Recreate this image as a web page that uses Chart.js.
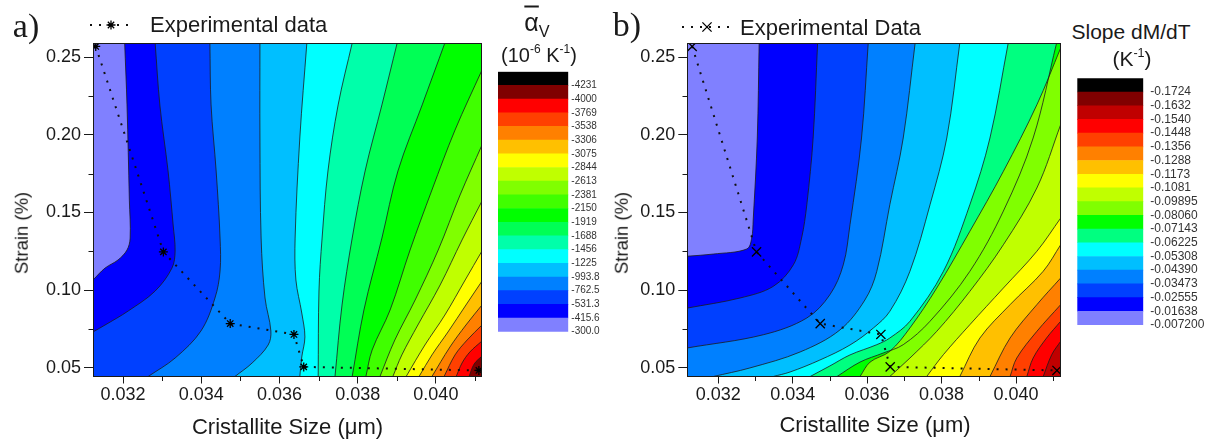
<!DOCTYPE html>
<html><head><meta charset="utf-8">
<script src="https://cdn.jsdelivr.net/npm/chart.js@4.4.1/dist/chart.umd.min.js"></script>
<style>
html,body{margin:0;padding:0;background:#fff;}
body{width:1216px;height:443px;overflow:hidden;position:relative;font-family:"Liberation Sans",Arial,sans-serif;color:#1a1a1a;}
canvas{position:absolute;}
.t{position:absolute;white-space:nowrap;line-height:1;}
.c{transform:translate(-50%,-50%);}
.l{transform:translate(0,-50%);}
.r90{transform:translate(-50%,-50%) rotate(-90deg);}
.sup{font-size:0.6em;position:relative;top:-0.75em;}
.sub{font-size:0.65em;position:relative;top:0.35em;}
</style></head><body>
<canvas id="cA" width="490" height="443" style="left:0;top:0"></canvas>
<canvas id="cbA" width="110" height="290" style="left:490px;top:60px"></canvas>
<canvas id="cB" width="470" height="443" style="left:600px;top:0"></canvas>
<canvas id="cbB" width="146" height="290" style="left:1070px;top:60px"></canvas>

<div class="t c" style="left:26px;top:26px;font:34px 'Liberation Serif',serif">a)</div>
<div class="t c" style="left:627px;top:25px;font:34px 'Liberation Serif',serif">b)</div>
<div class="t l" style="left:150px;top:25px;font-size:22px">Experimental data</div>
<div class="t l" style="left:740px;top:28px;font-size:22px">Experimental Data</div>
<div class="t c" style="left:287.5px;top:426.5px;font-size:22px">Cristallite Size (μm)</div>
<div class="t c" style="left:875px;top:425px;font-size:22px">Cristallite Size (μm)</div>
<div class="t r90" style="left:21.5px;top:233px;font-size:18.5px">Strain (%)</div>
<div class="t r90" style="left:621.5px;top:233px;font-size:18.5px">Strain (%)</div>
<div class="t c" style="left:537px;top:22px;font-size:25px"><span style="text-decoration:overline">α</span><span class="sub">V</span></div>
<div class="t c" style="left:539px;top:55px;font-size:20px">(10<span class="sup">-6</span> K<span class="sup">-1</span>)</div>
<div class="t c" style="left:1131px;top:31px;font-size:21px">Slope dM/dT</div>
<div class="t c" style="left:1132px;top:58px;font-size:21px">(K<span class="sup">-1</span>)</div>

<script>
// ---------------- data ----------------
const sizeRangeA = [0.03123, 0.04118];
const sizeRangeB = [0.03117, 0.04120];
const strainRange = [0.0443, 0.2592];
const sizeTicks = [0.032, 0.034, 0.036, 0.038, 0.040];
const strainTicks = [0.05, 0.10, 0.15, 0.20, 0.25];

// experimental data (crystallite size in µm, strain in %)
const expSize   = [0.03130, 0.03303, 0.03474, 0.03637, 0.03662, 0.04110];
const expStrain = [0.2570, 0.1246, 0.0784, 0.0714, 0.0505, 0.0482];

// colour-bar level labels (top to bottom as printed)
const levelLabelsA = ['-4231','-4000','-3769','-3538','-3306','-3075','-2844','-2613','-2381','-2150','-1919','-1688','-1456','-1225','-993.8','-762.5','-531.3','-415.6','-300.0'];
const levelLabelsB = ['-0.1724','-0.1632','-0.1540','-0.1448','-0.1356','-0.1288','-0.1173','-0.1081','-0.09895','-0.08060','-0.07143','-0.06225','-0.05308','-0.04390','-0.03473','-0.02555','-0.01638','-0.007200'];

// contour lines: [size, strain] points, lowest |level| first
const contoursA = [
 [[0.03204,0.2592],[0.03210,0.2193],[0.03216,0.1580],[0.03218,0.1335],[0.03210,0.1258],[0.03187,0.1194],[0.03154,0.1142],[0.03123,0.1065]],
 [[0.03282,0.2592],[0.03294,0.2193],[0.03315,0.1767],[0.03328,0.1419],[0.03333,0.1252],[0.03325,0.1142],[0.03282,0.0994],[0.03213,0.0865],[0.03154,0.0775],[0.03123,0.0730]],
 [[0.03422,0.2592],[0.03425,0.2193],[0.03438,0.1767],[0.03448,0.1335],[0.03448,0.1123],[0.03435,0.0949],[0.03399,0.0736],[0.03333,0.0562],[0.03264,0.0443]],
 [[0.03550,0.2592],[0.03550,0.1980],[0.03553,0.1335],[0.03563,0.0949],[0.03578,0.0736],[0.03571,0.0646],[0.03530,0.0530],[0.03486,0.0443]],
 [[0.03670,0.2592],[0.03652,0.1980],[0.03640,0.1335],[0.03642,0.1065],[0.03657,0.0852],[0.03665,0.0698],[0.03657,0.0569],[0.03652,0.0443]],
 [[0.03786,0.2592],[0.03750,0.2193],[0.03724,0.1767],[0.03709,0.1335],[0.03701,0.0994],[0.03699,0.0443]],
 [[0.03901,0.2592],[0.03862,0.2193],[0.03819,0.1767],[0.03786,0.1335],[0.03760,0.0904],[0.03742,0.0443]],
 [[0.04023,0.2592],[0.03965,0.2193],[0.03903,0.1767],[0.03862,0.1335],[0.03816,0.0872],[0.03786,0.0443]],
 [[0.04118,0.2418],[0.04049,0.2031],[0.03990,0.1645],[0.03934,0.1258],[0.03883,0.0872],[0.03837,0.0614],[0.03821,0.0443]],
 [[0.04118,0.1935],[0.04062,0.1613],[0.04006,0.1258],[0.03947,0.0936],[0.03895,0.0678],[0.03857,0.0443]],
 [[0.04118,0.1574],[0.04067,0.1323],[0.04011,0.1033],[0.03954,0.0775],[0.03913,0.0582],[0.03890,0.0443]],
 [[0.04118,0.1252],[0.04075,0.1065],[0.04023,0.0839],[0.03972,0.0646],[0.03924,0.0443]],
 [[0.04118,0.1058],[0.04077,0.0904],[0.04031,0.0730],[0.03990,0.0582],[0.03957,0.0443]],
 [[0.04118,0.0904],[0.04077,0.0775],[0.04036,0.0633],[0.03990,0.0443]],
 [[0.04118,0.0775],[0.04080,0.0678],[0.04049,0.0582],[0.04021,0.0443]],
 [[0.04118,0.0672],[0.04087,0.0601],[0.04067,0.0530],[0.04052,0.0443]],
 [[0.04118,0.0575],[0.04098,0.0524],[0.04085,0.0443]]
];
const contoursB = [
 [[0.03310,0.2592],[0.03305,0.1980],[0.03294,0.1451],[0.03290,0.1335],[0.03277,0.1265],[0.03187,0.1232],[0.03117,0.1218]],
 [[0.03467,0.2592],[0.03455,0.1980],[0.03438,0.1550],[0.03424,0.1335],[0.03402,0.1163],[0.03348,0.1024],[0.03259,0.0949],[0.03117,0.0884]],
 [[0.03603,0.2592],[0.03585,0.1980],[0.03554,0.1421],[0.03536,0.1163],[0.03500,0.0970],[0.03438,0.0820],[0.03321,0.0712],[0.03117,0.0627]],
 [[0.03729,0.2592],[0.03697,0.1980],[0.03661,0.1550],[0.03626,0.1121],[0.03594,0.0936],[0.03527,0.0743],[0.03420,0.0601],[0.03285,0.0498],[0.03187,0.0443]],
 [[0.03849,0.2592],[0.03814,0.1980],[0.03769,0.1550],[0.03715,0.1121],[0.03661,0.0863],[0.03617,0.0756],[0.03554,0.0646],[0.03473,0.0549],[0.03393,0.0472],[0.03348,0.0443]],
 [[0.03979,0.2592],[0.03930,0.1980],[0.03876,0.1550],[0.03805,0.1121],[0.03715,0.0799],[0.03661,0.0691],[0.03626,0.0648],[0.03554,0.0582],[0.03500,0.0511],[0.03447,0.0443]],
 [[0.04109,0.2592],[0.04046,0.1980],[0.03966,0.1509],[0.03876,0.1121],[0.03769,0.0799],[0.03697,0.0648],[0.03643,0.0594],[0.03581,0.0536],[0.03519,0.0443]],
 [[0.04120,0.2560],[0.04056,0.2194],[0.03966,0.1765],[0.03876,0.1379],[0.03787,0.1013],[0.03715,0.0756],[0.03661,0.0605],[0.03608,0.0536],[0.03581,0.0443]],
 [[0.04120,0.2066],[0.04056,0.1658],[0.03966,0.1292],[0.03876,0.0992],[0.03787,0.0734],[0.03715,0.0562],[0.03661,0.0443]],
 [[0.04120,0.1464],[0.04056,0.1250],[0.03966,0.1013],[0.03876,0.0777],[0.03805,0.0584],[0.03760,0.0443]],
 [[0.04120,0.1292],[0.04073,0.1121],[0.03984,0.0906],[0.03903,0.0691],[0.03849,0.0443]],
 [[0.04120,0.1078],[0.04056,0.0906],[0.03984,0.0691],[0.03930,0.0443]],
 [[0.04120,0.0906],[0.04056,0.0734],[0.04002,0.0562],[0.03984,0.0443]],
 [[0.04120,0.0799],[0.04082,0.0691],[0.04046,0.0562],[0.04029,0.0443]],
 [[0.04120,0.0670],[0.04096,0.0584],[0.04073,0.0443]]
];

// band colours, lowest |level| first
const bandColorsA = ['#8080FF','#0000FF','#0040FF','#0080FF','#00BFFF','#00FFFF','#00FFAA','#00FF55','#00FF00','#40FF00','#80FF00','#C0FF00','#FFFF00','#FFC000','#FF8000','#FF4000','#FF0000','#800000','#000000'];
const bandColorsB = ['#8080FF','#0000FF','#0040FF','#0080FF','#00BFFF','#00FFFF','#00FF80','#00FF00','#80FF00','#C0FF00','#FFFF00','#FFC000','#FF8000','#FF4000','#FF0000','#C00000','#800000','#000000'];

// ---------------- helpers ----------------
Chart.defaults.font.family = '"Liberation Sans", Arial, sans-serif';
Chart.defaults.color = '#1a1a1a';

const TENSION = 0.35;

function regionPolygon(contour, xr, yr) {
  const W = xr[1]-xr[0], H = yr[1]-yr[0];
  const tOf = ([x,y]) => {
    const d = [Math.abs(x-xr[0])/W, Math.abs(y-yr[0])/H, Math.abs(x-xr[1])/W, Math.abs(y-yr[1])/H];
    const m = Math.min(...d);
    if (m === d[0]) return (yr[1]-y)/H;
    if (m === d[1]) return 1 + (x-xr[0])/W;
    if (m === d[2]) return 2 + (y-yr[0])/H;
    return 3 + (xr[1]-x)/W;
  };
  let pts = contour.slice();
  let ta = tOf(pts[0]), tb = tOf(pts[pts.length-1]);
  if (ta > tb) { pts.reverse(); const tmp = ta; ta = tb; tb = tmp; }
  const corners = [[1,[xr[0],yr[0]]],[2,[xr[1],yr[0]]],[3,[xr[1],yr[1]]]];
  const extra = corners.filter(c => c[0] > ta && c[0] < tb).map(c => c[1]).reverse();
  const poly = pts.slice();
  poly.push(pts[pts.length-1]);
  extra.forEach(c => { poly.push(c); poly.push(c); });
  poly.push(pts[0]);
  return poly.map(([x,y]) => ({x, y}));
}

function drawMarker(ctx, style, x, y, r) {
  ctx.beginPath();
  if (style === 'star') { ctx.moveTo(x, y-r); ctx.lineTo(x, y+r); ctx.moveTo(x-r, y); ctx.lineTo(x+r, y); }
  const d = r*Math.SQRT1_2;
  ctx.moveTo(x-d, y-d); ctx.lineTo(x+d, y+d); ctx.moveTo(x-d, y+d); ctx.lineTo(x+d, y-d);
  ctx.stroke();
}

const frameTicksPlugin = {
  id: 'frameTicks',
  afterDatasetsDraw(chart) {
    const {ctx, chartArea: a, scales: {x, y}} = chart;
    ctx.save();
    ctx.strokeStyle = '#1a1a1a'; ctx.lineWidth = 1;
    const L = Math.round(a.left), T = Math.round(a.top), R = Math.round(a.right), B = Math.round(a.bottom);
    ctx.strokeRect(L+0.5, T+0.5, R-L-1, B-T-1);
    const minor = (vals, lo, hi) => {
      const step = vals[1]-vals[0], out = [];
      vals.forEach(v => { [v-step/2, v+step/2].forEach(m => { if (m >= lo && m <= hi && !out.some(o => Math.abs(o-m) < 1e-9)) out.push(m); }); });
      return out;
    };
    ctx.beginPath();
    minor(sizeTicks, x.min, x.max).forEach(v => { const px = Math.round(x.getPixelForValue(v))+0.5; ctx.moveTo(px, B); ctx.lineTo(px, B+4); });
    minor(strainTicks, y.min, y.max).forEach(v => { const py = Math.round(y.getPixelForValue(v))+0.5; ctx.moveTo(L, py); ctx.lineTo(L-4.5, py); });
    ctx.stroke();
    ctx.restore();
  },
  afterDraw(chart, args, opts) {
    if (!opts || opts.x0 === undefined) return;
    const ctx = chart.ctx;
    ctx.save();
    ctx.strokeStyle = '#111'; ctx.lineWidth = 2; ctx.setLineDash([2, 7]);
    ctx.beginPath(); ctx.moveTo(opts.x0, opts.y); ctx.lineTo(opts.x1, opts.y); ctx.stroke();
    ctx.setLineDash([]); ctx.lineWidth = 1.3; ctx.strokeStyle = '#000';
    drawMarker(ctx, opts.style, opts.xm, opts.y, opts.r);
    ctx.restore();
  }
};

function contourChart(id, contours, colors, xr, yr, pad, marker, mr, legend) {
  const ds = [];
  const rect = [[xr[0],yr[1]],[xr[0],yr[0]],[xr[1],yr[0]],[xr[1],yr[1]],[xr[0],yr[1]]];
  ds.push({data: rect.map(([x,y]) => ({x,y})), fill: 'shape', backgroundColor: colors[0], borderWidth: 0, pointRadius: 0, tension: 0, order: 1000});
  contours.forEach((c, k) => {
    ds.push({data: regionPolygon(c, xr, yr), fill: 'shape', backgroundColor: colors[k+1], borderWidth: 0, pointRadius: 0, tension: TENSION, order: 900-k});
  });
  contours.forEach(c => {
    ds.push({data: c.map(([x,y]) => ({x,y})), fill: false, borderColor: '#1c1c1c', borderWidth: 0.8, pointRadius: 0, tension: TENSION, order: 10});
  });
  ds.push({data: expSize.map((x,i) => ({x, y: expStrain[i]})), fill: false, borderColor: '#111', borderWidth: 2, borderDash: [2,7],
    pointStyle: marker, pointRadius: mr, pointBorderColor: '#000', pointBorderWidth: 1.3, pointBackgroundColor: '#000', tension: 0, order: 0});
  return new Chart(document.getElementById(id), {
    type: 'line',
    data: {datasets: ds},
    options: {
      responsive: false, animation: false, events: [], devicePixelRatio: 1,
      layout: {padding: pad},
      plugins: {legend: {display: false}, tooltip: {enabled: false}, frameTicks: legend},
      scales: {
        x: {type: 'linear', min: xr[0], max: xr[1],
          afterBuildTicks: s => { s.ticks = sizeTicks.map(v => ({value: v})); },
          afterFit: s => { s.height = 40; },
          ticks: {callback: v => Number(v).toFixed(3), font: {size: 18}, color: '#1a1a1a', padding: 1, maxRotation: 0, autoSkip: false},
          grid: {drawOnChartArea: false, drawTicks: true, tickLength: 7, color: '#1a1a1a'},
          border: {display: false}},
        y: {type: 'linear', min: yr[0], max: yr[1],
          afterBuildTicks: s => { s.ticks = strainTicks.map(v => ({value: v})); },
          afterFit: s => { s.width = 60; },
          ticks: {callback: v => Number(v).toFixed(2), font: {size: 18}, color: '#1a1a1a', padding: 3, autoSkip: false},
          grid: {drawOnChartArea: false, drawTicks: true, tickLength: 9, color: '#1a1a1a'},
          border: {display: false}}
      }
    },
    plugins: [frameTicksPlugin]
  });
}

function colorBar(id, labels, colors, pad, axisW, fontSize, tickPad) {
  const n = colors.length;
  return new Chart(document.getElementById(id), {
    type: 'bar',
    data: {labels: [''], datasets: colors.map(c => ({data: [1], backgroundColor: c, borderWidth: 0, barPercentage: 1, categoryPercentage: 1}))},
    options: {
      responsive: false, animation: false, events: [], devicePixelRatio: 1,
      layout: {padding: pad},
      plugins: {legend: {display: false}, tooltip: {enabled: false}},
      scales: {
        x: {display: false, stacked: true},
        y: {stacked: true, position: 'right', min: 0, max: n,
          afterBuildTicks: s => { s.ticks = Array.from({length: n+1}, (_, v) => ({value: v})); },
          afterFit: s => { s.width = axisW; },
          ticks: {callback: v => (v < labels.length ? labels[labels.length-1-v] : ''), font: {size: fontSize}, color: '#333', padding: tickPad, autoSkip: false},
          grid: {display: false, drawTicks: false}, border: {display: false}}
      }
    }
  });
}

contourChart('cA', contoursA, bandColorsA, sizeRangeA, strainRange, {left: 33, right: 8, top: 43, bottom: 26.5}, 'star', 4.5,
  {x0: 90, x1: 131, xm: 111, y: 25, style: 'star', r: 4.5});
contourChart('cB', contoursB, bandColorsB, sizeRangeB, strainRange, {left: 27.3, right: 9.3, top: 43, bottom: 26.5}, 'crossRot', 6.5,
  {x0: 82, x1: 136, xm: 107, y: 27, style: 'crossRot', r: 6.5});
colorBar('cbA', levelLabelsA, bandColorsA, {left: 8, right: 0, top: 11.7, bottom: 18.3}, 31.7, 10, 3);
colorBar('cbB', levelLabelsB, bandColorsB, {left: 7.3, right: 0, top: 18.3, bottom: 25}, 72.7, 12, 7);
</script>
</body></html>
